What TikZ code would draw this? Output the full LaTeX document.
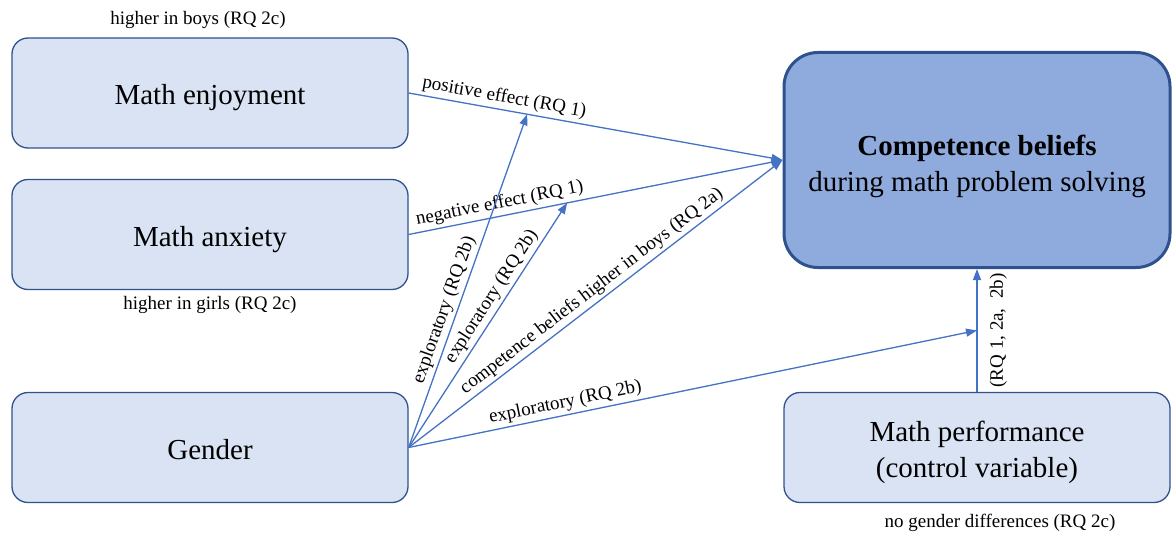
\documentclass[tikz,border=0pt]{standalone}
\usepackage{fontspec}
\setmainfont{Liberation Serif}
\usetikzlibrary{arrows.meta,calc}
\definecolor{boxfill}{HTML}{DAE3F3}
\definecolor{boxline}{HTML}{2F528F}
\definecolor{compfill}{HTML}{8FAADC}
\definecolor{arrowcol}{HTML}{4472C4}
\tikzset{
  varbox/.style={draw=boxline, fill=boxfill, line width=1.3pt, rounded corners=16pt,
    minimum width=396pt, minimum height=110pt, inner sep=0pt},
  compbox/.style={draw=boxline, fill=compfill, line width=3pt, rounded corners=34pt,
    minimum width=386pt, minimum height=215pt, inner sep=0pt},
  boxtext/.style={align=center, inner sep=0pt, yshift=-5pt,
    font=\fontsize{29}{36}\selectfont},
  note/.style={font=\fontsize{19}{22}\selectfont, inner sep=0pt},
  arr/.style={draw=arrowcol, line width=1.3pt, -{Triangle[length=11pt,width=8pt]}},
  lab/.style={font=\fontsize{19}{22}\selectfont, sloped, inner sep=3pt},
}
\begin{document}
\begin{tikzpicture}[x=1pt,y=-1pt]
\useasboundingbox (0,0) rectangle (1172,535);
\node[varbox] (enj) at (210,93) {};
\node[varbox] (anx) at (210,234.5) {};
\node[varbox] (gen) at (210,447.5) {};
\node[compbox] (comp) at (977,160) {};
\node[varbox, minimum width=386pt] (perf) at (977,447.5) {};

\node[boxtext] (enjT) at (enj.center) {Math enjoyment};
\node[boxtext] (anxT) at (anx.center) {Math anxiety};
\node[boxtext, yshift=3pt] (genT) at (gen.center) {Gender};
\node[boxtext, yshift=-1pt] (compT) at (comp.center) {\textbf{Competence beliefs}\\during math problem solving};
\node[boxtext] (perfT) at (perf.center) {Math performance\\(control variable)};

\node[note] (n1) at (198,20) {higher in boys (RQ 2c)};
\node[note] (n2) at (210,305) {higher in girls (RQ 2c)};
\node[note] (n3) at (1000,523) {no gender differences (RQ 2c)};

\coordinate (p1) at ($(enj.east)!0.317!(comp.west)$);
\coordinate (p2) at ($(anx.east)!0.424!(comp.west)$);
\coordinate (p3) at ($(perf.north)!0.5!(comp.south)$);

\draw[arr] (enj.east) -- node[lab, above, pos=0.25] {positive effect (RQ 1)} (comp.west);
\draw[arr] (anx.east) -- node[lab, above, pos=0.25] {negative effect (RQ 1)} (comp.west);
\draw[arr] (gen.east) -- node[lab, above, pos=0.40] {exploratory (RQ 2b)} (p1);
\draw[arr] (gen.east) -- node[lab, above, pos=0.59] {exploratory (RQ 2b)} (p2);
\draw[arr] (gen.east) -- node[lab, above, pos=0.51] {competence beliefs higher in boys (RQ 2a)} (comp.west);
\draw[arr] (gen.east) -- node[lab, above, pos=0.28] {exploratory (RQ 2b)} (p3);
\draw[arr] (perf.north) -- node[lab, below, pos=0.5, inner sep=12pt] {(RQ 1, 2a,\ \ 2b)} (comp.south);
\end{tikzpicture}
\end{document}
